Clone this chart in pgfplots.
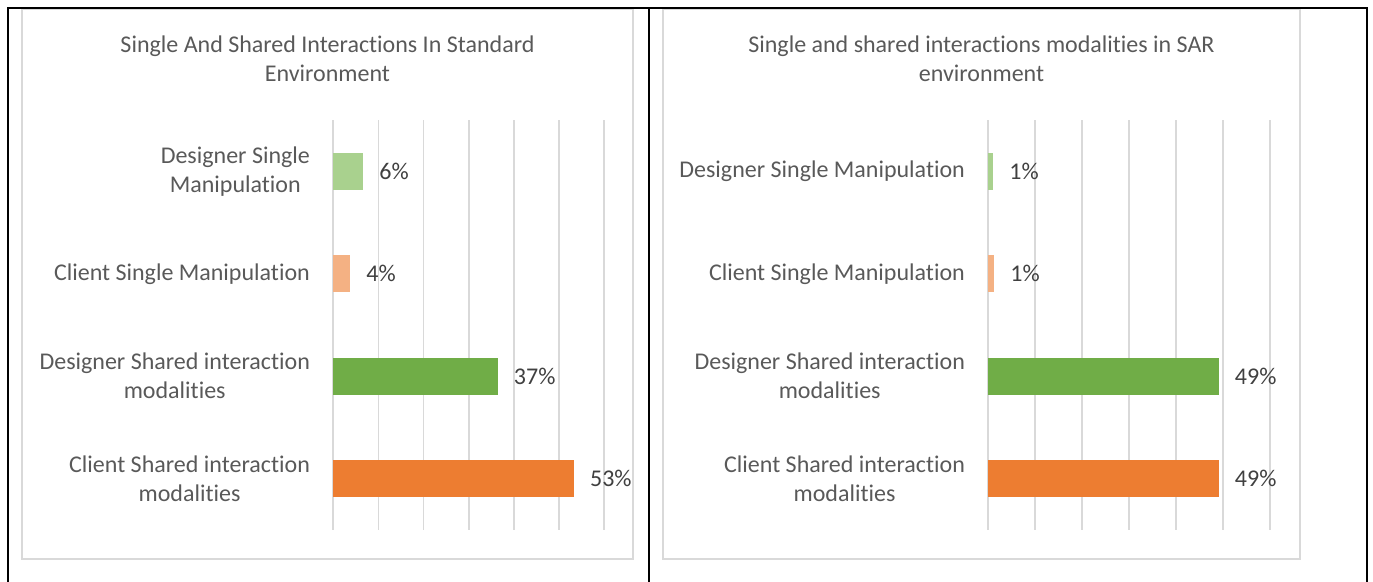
\documentclass[border=0pt]{standalone}
\usepackage{fontspec}
\setmainfont{Carlito}[Ligatures={NoCommon}]
\usepackage{pgfplots}
\pgfplotsset{compat=1.18}

\definecolor{lgreen}{HTML}{A9D18E}
\definecolor{lorange}{HTML}{F4B183}
\definecolor{dgreen}{HTML}{70AD47}
\definecolor{dorange}{HTML}{ED7D31}
\definecolor{gridgray}{HTML}{D9D9D9}
\definecolor{labgray}{HTML}{595959}
\definecolor{valgray}{HTML}{404040}

\pgfplotsset{
  barpanel/.style={
    scale only axis, height=205pt,
    xmin=0, xmax=60, ymin=-0.5, ymax=3.5,
    xtick={0,10,...,60}, xticklabels={},
    xmajorgrids, major grid style={gridgray, line width=0.9pt},
    axis line style={draw=none}, major tick length=0pt,
    ytick={0,1,2,3},
    yticklabel style={font=\fontsize{12}{14.5}\selectfont, text=labgray,
      align=center, inner sep=0pt, xshift=-11.5pt},
    xbar, bar width=18.5pt,
    nodes near coords, point meta=explicit symbolic,
    every node near coord/.append style={font=\fontsize{12}{14.5}\selectfont,
      text=valgray, anchor=west, inner sep=0pt, xshift=8pt},
    clip=false,
  },
}
\tikzset{ttl/.style={font=\fontsize{12}{14.5}\selectfont, text=labgray, anchor=base}}

\begin{document}
\begin{tikzpicture}
\useasboundingbox (0,0) rectangle (686.5pt,-291pt);

% chart areas
\draw[gridgray, line width=0.75pt] (11pt,-4.5pt) rectangle (316.5pt,-279.5pt);
\draw[gridgray, line width=0.75pt] (331.5pt,-4.5pt) rectangle (650pt,-279.5pt);
% table rules
\draw[black, line width=1pt] (4pt,-291pt) -- (4pt,-4pt) -- (683.5pt,-4pt) -- (683.5pt,-291pt);
\draw[black, line width=1pt] (324.5pt,-4pt) -- (324.5pt,-291pt);

% titles
\node[ttl] at (163.75pt,-26.5pt) {Single And Shared Interactions In Standard};
\node[ttl] at (163.75pt,-41pt) {Environment};
\node[ttl] at (490.75pt,-26.5pt) {Single and shared interactions modalities in SAR};
\node[ttl] at (490.75pt,-41pt) {environment};

% left panel
\begin{axis}[barpanel, width=135.35pt, at={(166.65pt,-265pt)}, anchor=south west,
  yticklabels={{Client Shared interaction\\modalities},{Designer Shared interaction\\modalities},{Client Single Manipulation},{Designer Single\\Manipulation}}]
\addplot[fill=dorange, draw=none, bar shift=0pt] coordinates {(53.3,0) [53\%]};
\addplot[fill=dgreen, draw=none, bar shift=0pt] coordinates {(36.4,1) [37\%]};
\addplot[fill=lorange, draw=none, bar shift=0pt] coordinates {(3.7,2) [4\%]};
\addplot[fill=lgreen, draw=none, bar shift=0pt] coordinates {(6.6,3) [6\%]};
\end{axis}

% right panel
\begin{axis}[barpanel, width=141pt, at={(494.15pt,-265pt)}, anchor=south west,
  yticklabels={{Client Shared interaction\\modalities},{Designer Shared interaction\\modalities},{Client Single Manipulation},{Designer Single Manipulation}}]
\addplot[fill=dorange, draw=none, bar shift=0pt] coordinates {(49.0,0) [49\%]};
\addplot[fill=dgreen, draw=none, bar shift=0pt] coordinates {(49.0,1) [49\%]};
\addplot[fill=lorange, draw=none, bar shift=0pt] coordinates {(1.2,2) [1\%]};
\addplot[fill=lgreen, draw=none, bar shift=0pt] coordinates {(1.0,3) [1\%]};
\end{axis}
\end{tikzpicture}
\end{document}
